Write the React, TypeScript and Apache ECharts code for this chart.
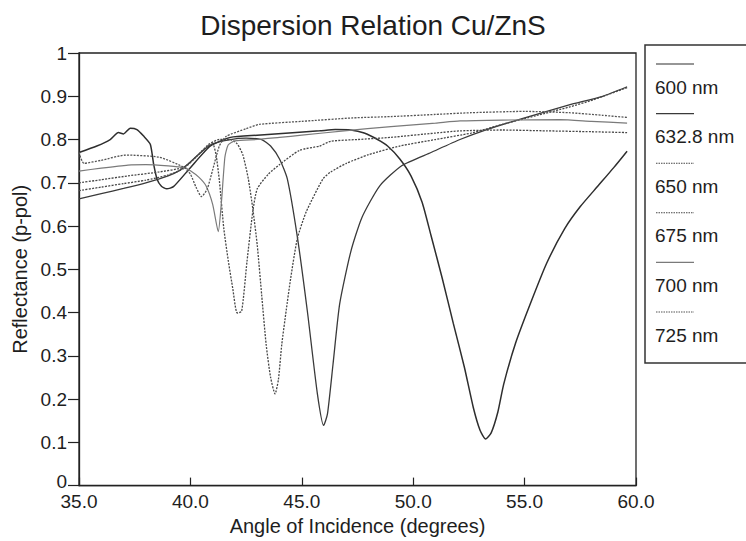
import React, { useEffect, useRef } from "react";
import * as echarts from "echarts";

const seriesNames = ["600 nm", "632.8 nm", "650 nm", "675 nm", "700 nm", "725 nm"];

const angles600 = [35.0, 35.8, 36.4, 36.77, 37.0, 37.3, 37.6, 37.9, 38.2, 38.35, 38.5, 38.7, 38.94, 39.24, 40.0, 40.9, 41.8, 43.0, 44.9, 45.8, 46.5, 47.2, 47.8, 48.4, 48.85, 49.4, 49.9, 50.4, 50.8, 51.3, 51.8, 52.3, 52.7, 53.0, 53.25, 53.5, 53.8, 54.06, 54.6, 55.3, 56.0, 56.8, 57.5, 58.3, 59.0, 59.6];
const refl600 = [0.770, 0.785, 0.800, 0.816, 0.813, 0.826, 0.823, 0.808, 0.789, 0.743, 0.709, 0.692, 0.686, 0.691, 0.735, 0.785, 0.805, 0.810, 0.817, 0.820, 0.823, 0.822, 0.815, 0.800, 0.785, 0.755, 0.716, 0.655, 0.578, 0.480, 0.375, 0.273, 0.180, 0.128, 0.108, 0.122, 0.170, 0.234, 0.330, 0.426, 0.515, 0.594, 0.645, 0.693, 0.735, 0.773];

const angles633 = [35.0, 36.0, 37.0, 38.0, 39.0, 39.5, 40.0, 40.5, 41.0, 41.8, 42.5, 43.2, 43.6, 44.0, 44.35, 44.8, 45.25, 45.7, 45.98, 46.15, 46.4, 46.7, 47.2, 47.7, 48.5, 49.5, 50.8, 52.1, 53.3, 55.0, 57.0, 58.5, 59.6];
const refl633 = [0.663, 0.675, 0.687, 0.700, 0.716, 0.728, 0.748, 0.772, 0.790, 0.800, 0.803, 0.800, 0.785, 0.755, 0.709, 0.575, 0.403, 0.212, 0.139, 0.165, 0.280, 0.420, 0.541, 0.620, 0.693, 0.740, 0.770, 0.800, 0.823, 0.850, 0.880, 0.900, 0.922];

const angles650 = [35.0, 36.0, 37.0, 38.0, 39.0, 39.7, 40.3, 40.8, 41.3, 41.8, 42.1, 42.35, 42.6, 42.8, 43.0, 43.2, 43.4, 43.6, 43.8, 43.95, 44.1, 44.3, 44.5, 44.8, 45.2, 45.95, 46.3, 47.0, 48.0, 49.4, 51.0, 52.6, 54.0, 55.5, 57.0, 58.1, 59.6];
const refl650 = [0.682, 0.690, 0.698, 0.706, 0.718, 0.733, 0.762, 0.788, 0.800, 0.800, 0.790, 0.765, 0.709, 0.640, 0.556, 0.440, 0.326, 0.250, 0.212, 0.245, 0.326, 0.405, 0.479, 0.571, 0.633, 0.709, 0.725, 0.745, 0.765, 0.785, 0.800, 0.815, 0.835, 0.855, 0.875, 0.892, 0.920];

const angles675 = [35.0, 36.0, 37.2, 38.6, 39.7, 40.3, 40.8, 41.0, 41.15, 41.3, 41.5, 41.7, 41.9, 42.1, 42.3, 42.54, 42.8, 43.0, 43.5, 44.0, 44.9, 45.8, 46.3, 47.5, 49.0, 51.0, 52.1, 54.0, 56.0, 58.0, 59.6];
const refl675 = [0.700, 0.707, 0.716, 0.725, 0.736, 0.762, 0.785, 0.790, 0.765, 0.705, 0.594, 0.520, 0.456, 0.399, 0.403, 0.518, 0.633, 0.686, 0.720, 0.742, 0.775, 0.785, 0.796, 0.800, 0.805, 0.815, 0.820, 0.822, 0.820, 0.818, 0.816];

const angles700 = [35.0, 36.0, 37.2, 38.0, 39.0, 39.7, 40.0, 40.4, 40.7, 41.0, 41.25, 41.4, 41.55, 41.7, 42.0, 43.0, 44.0, 45.0, 46.9, 49.0, 51.0, 52.1, 54.0, 56.6, 58.0, 59.6];
const refl700 = [0.727, 0.734, 0.741, 0.742, 0.739, 0.735, 0.728, 0.712, 0.693, 0.650, 0.587, 0.660, 0.760, 0.788, 0.797, 0.800, 0.805, 0.810, 0.820, 0.830, 0.838, 0.843, 0.845, 0.846, 0.842, 0.838];

const angles725 = [35.0, 35.22, 36.0, 37.1, 38.6, 39.7, 40.0, 40.25, 40.5, 40.75, 41.0, 41.3, 41.6, 42.5, 43.1, 45.0, 47.3, 49.0, 51.0, 52.6, 55.0, 57.0, 58.5, 59.6];
const refl725 = [0.770, 0.745, 0.752, 0.764, 0.759, 0.736, 0.720, 0.690, 0.668, 0.685, 0.730, 0.785, 0.807, 0.825, 0.835, 0.842, 0.850, 0.853, 0.858, 0.862, 0.865, 0.862, 0.856, 0.851];

const xTickValues = [35, 40, 45, 50, 55, 60];
const yTickValues = [0, 0.1, 0.2, 0.3, 0.4, 0.5, 0.6, 0.7, 0.8, 0.9, 1];

const allAngles = [angles600, angles633, angles650, angles675, angles700, angles725];
const allRefl = [refl600, refl633, refl650, refl675, refl700, refl725];

const DOT: number[] = [2, 1.3];
const lineStyles = [
  { color: "#2e2e2e", type: "solid" as any, width: 1.5 },
  { color: "#3a3a3a", type: "solid" as any, width: 1.3 },
  { color: "#474747", type: DOT as any, width: 1.3 },
  { color: "#474747", type: DOT as any, width: 1.3 },
  { color: "#7a7a7a", type: "solid" as any, width: 1.2 },
  { color: "#555555", type: DOT as any, width: 1.3 },
];

const FONT = "Liberation Sans, Arial, Helvetica, sans-serif";

export default function App() {
  const ref = useRef<HTMLDivElement>(null);
  useEffect(() => {
    const chart = echarts.init(ref.current!, null, { renderer: "svg" });

    const series = seriesNames.map((name, i) => ({
      name,
      type: "line",
      data: allAngles[i].map((a, j) => [a, allRefl[i][j]]),
      showSymbol: false,
      smooth: 0.2,
      lineStyle: lineStyles[i],
      itemStyle: { color: lineStyles[i].color },
      z: 3,
    }));

    const legendX = 656;
    const legendChildren: any[] = [
      {
        type: "rect",
        shape: { x: 645, y: 45, width: 120, height: 318 },
        style: { fill: "#fff", stroke: "#333", lineWidth: 1.5 },
      },
    ];
    seriesNames.forEach((name, i) => {
      const yLine = 64 + i * 49.6;
      legendChildren.push({
        type: "line",
        shape: { x1: legendX, y1: yLine, x2: legendX + 38, y2: yLine },
        style: {
          stroke: lineStyles[i].color,
          lineWidth: 1.1,
          lineDash: Array.isArray(lineStyles[i].type) ? [1.5, 1] : null,
        },
      });
      legendChildren.push({
        type: "text",
        x: legendX - 1,
        y: yLine + 23,
        style: {
          text: name,
          font: `19px ${FONT}`,
          fill: "#1e1e1e",
          verticalAlign: "middle",
          align: "left",
        },
      });
    });

    const option: any = {
      animation: false,
      backgroundColor: "#ffffff",
      title: {
        text: "Dispersion Relation Cu/ZnS",
        left: "center",
        top: 6,
        textStyle: { fontFamily: FONT, fontSize: 28, fontWeight: "normal", color: "#1e1e1e" },
      },
      grid: {
        left: 79,
        right: 110,
        top: 53,
        bottom: 52,
        show: true,
        borderColor: "#222",
        borderWidth: 1.3,
        backgroundColor: "transparent",
      },
      xAxis: {
        type: "value",
        min: 35,
        max: 60,
        interval: 5,
        name: "Angle of Incidence (degrees)",
        nameLocation: "middle",
        nameGap: 29,
        nameTextStyle: { fontFamily: FONT, fontSize: 20, color: "#1e1e1e" },
        axisLine: { show: true, lineStyle: { color: "#222", width: 1.3 } },
        axisTick: { show: true, inside: true, length: 8, lineStyle: { color: "#222", width: 1.2 } },
        axisLabel: {
          fontFamily: FONT,
          fontSize: 19,
          lineHeight: 16,
          color: "#1e1e1e",
          margin: 8,
          formatter: (v: number) => (xTickValues.includes(v) ? v.toFixed(1) : ""),
        },
        splitLine: { show: false },
      },
      yAxis: {
        type: "value",
        min: 0,
        max: 1,
        interval: 0.1,
        name: "Reflectance (p-pol)",
        nameLocation: "middle",
        nameGap: 48,
        nameTextStyle: { fontFamily: FONT, fontSize: 20, color: "#1e1e1e" },
        axisLine: { show: true, lineStyle: { color: "#222", width: 1.3 } },
        axisTick: { show: true, inside: false, length: 11, lineStyle: { color: "#222", width: 1.2 } },
        axisLabel: {
          fontFamily: FONT,
          fontSize: 19,
          lineHeight: 13,
          color: "#1e1e1e",
          margin: 12,
          formatter: (v: number) => {
            const t = yTickValues.find((y) => Math.abs(y - v) < 1e-6);
            if (t === undefined) return "";
            if (t === 0) return "{z|0}";
            if (t === 1) return "1";
            return t.toFixed(1);
          },
          rich: {
            z: { fontFamily: FONT, fontSize: 19, lineHeight: 13, color: "#1e1e1e", padding: [0, 0, 8, 0] },
          },
        },
        splitLine: { show: false },
      },
      graphic: [{ type: "group", children: legendChildren }],
      series,
    };

    chart.setOption(option);
    return () => chart.dispose();
  }, []);

  return (
    <div
      ref={ref}
      style={{ position: "absolute", left: 0, top: 0, width: 746, height: 541, background: "#fff" }}
    />
  );
}
